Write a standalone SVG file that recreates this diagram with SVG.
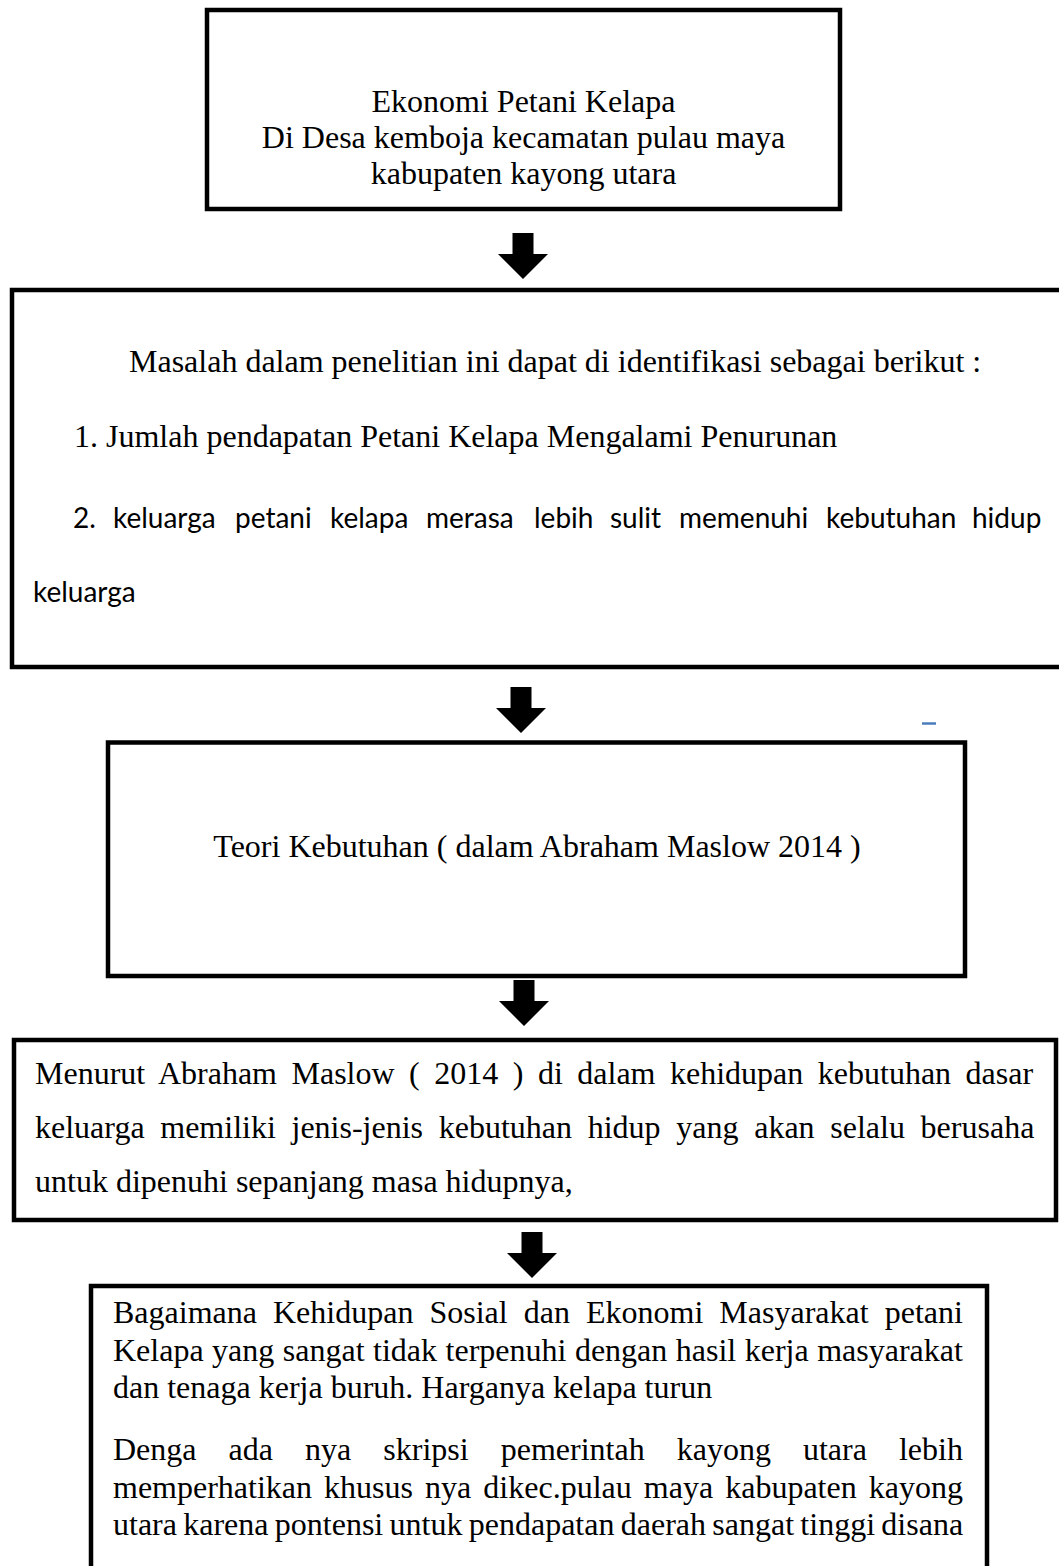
<svg xmlns="http://www.w3.org/2000/svg" xmlns:xlink="http://www.w3.org/1999/xlink" width="1059" height="1566" viewBox="0 0 1059 1566">
<style>
.box{fill:#fff;stroke:#000;stroke-width:4.5}
.serif{font-family:"Liberation Serif","Times New Roman",serif;font-size:32px;fill:#000}
.sans{font-family:Lato,"Open Sans",sans-serif;font-size:28px;fill:#000}
.c{text-anchor:middle}
</style>
<defs>
<path id="blockArrow" d="M-10.5,0 H10.5 V21 H25 L0,46 L-25,21 H-10.5 Z" fill="#000"/>
</defs>
<rect width="1059" height="1566" fill="#fff"/>
<g id="node-ekonomi">
<rect class="box" x="207" y="10" width="633" height="199"/>
<text class="serif c" x="523.5" y="112">Ekonomi Petani Kelapa</text>
<text class="serif c" x="523.5" y="148">Di Desa kemboja kecamatan pulau maya</text>
<text class="serif c" x="523.5" y="184">kabupaten kayong utara</text>
</g>
<g id="node-masalah">
<rect class="box" x="12" y="290" width="1070" height="377"/>
<text class="serif" x="129" y="372">Masalah dalam penelitian ini dapat di identifikasi sebagai berikut :</text>
<text class="serif" x="74" y="447">1. Jumlah pendapatan Petani Kelapa Mengalami Penurunan</text>
<text class="sans" y="528"><tspan x="73">2.</tspan> <tspan x="113">keluarga</tspan> <tspan x="235">petani</tspan> <tspan x="330">kelapa</tspan> <tspan x="426">merasa</tspan> <tspan x="534">lebih</tspan> <tspan x="610">sulit</tspan> <tspan x="679">memenuhi</tspan> <tspan x="826">kebutuhan</tspan> <tspan x="972">hidup</tspan></text>
<text class="sans" x="33" y="602">keluarga</text>
</g>
<line id="mark" x1="922" y1="723.5" x2="936" y2="723.5" stroke="#4a7ebb" stroke-width="2.5"/>
<g id="node-teori">
<rect class="box" x="108" y="742.5" width="857" height="233.5"/>
<text class="serif c" x="537" y="857">Teori Kebutuhan ( dalam Abraham Maslow 2014 )</text>
</g>
<g id="node-menurut">
<rect class="box" x="14" y="1040" width="1042" height="180"/>
<text class="serif" x="35" y="1084" word-spacing="6.5">Menurut Abraham Maslow ( 2014 ) di dalam kehidupan kebutuhan dasar</text>
<text class="serif" x="35" y="1138" word-spacing="7.69">keluarga memiliki jenis-jenis kebutuhan hidup yang akan selalu berusaha</text>
<text class="serif" x="35" y="1192">untuk dipenuhi sepanjang masa hidupnya,</text>
</g>
<g id="node-bagaimana">
<rect class="box" x="91" y="1286" width="896" height="300"/>
<text class="serif" x="113" y="1323" word-spacing="8.05">Bagaimana Kehidupan Sosial dan Ekonomi Masyarakat petani</text>
<text class="serif" x="113" y="1361" word-spacing="0.5">Kelapa yang sangat tidak terpenuhi dengan hasil kerja masyarakat</text>
<text class="serif" x="113" y="1398">dan tenaga kerja buruh. Harganya kelapa turun</text>
<text class="serif" x="113" y="1460" word-spacing="24.06">Denga ada nya skripsi pemerintah kayong utara lebih</text>
<text class="serif" x="113" y="1498" word-spacing="4.07">memperhatikan khusus nya dikec.pulau maya kabupaten kayong</text>
<text class="serif" x="113" y="1535" word-spacing="-1.7">utara karena pontensi untuk pendapatan daerah sangat tinggi disana</text>
</g>
<g id="connectors">
<use xlink:href="#blockArrow" x="523" y="233"/>
<use xlink:href="#blockArrow" x="521" y="687"/>
<use xlink:href="#blockArrow" x="524" y="980"/>
<use xlink:href="#blockArrow" x="532" y="1232"/>
</g>
</svg>
